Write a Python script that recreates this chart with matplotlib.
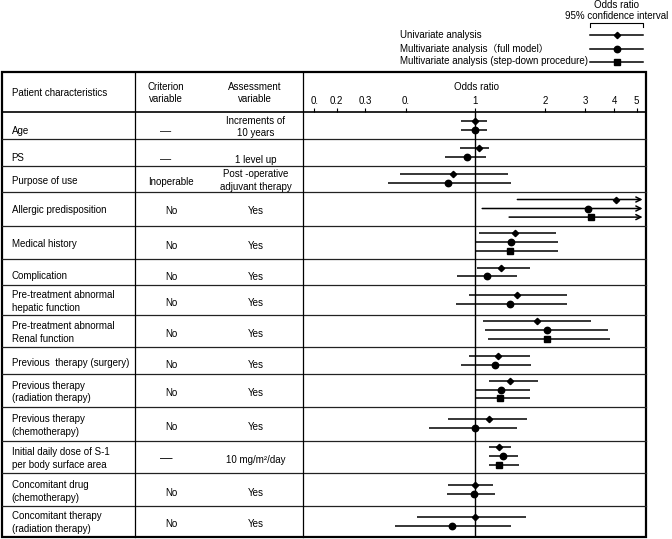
import numpy as np
import matplotlib
matplotlib.use('Agg')
import matplotlib.pyplot as plt
from matplotlib.patches import Rectangle
from matplotlib.ticker import NullLocator

plt.rcParams['font.family'] = ['Liberation Sans', 'Noto Sans CJK JP', 'DejaVu Sans']

# table text
characteristics = ["Age", "PS", "Purpose of use", "Allergic predisposition",
                   "Medical history", "Complication",
                   "Pre-treatment abnormal\nhepatic function",
                   "Pre-treatment abnormal\nRenal function",
                   "Previous  therapy (surgery)",
                   "Previous therapy\n(radiation therapy)",
                   "Previous therapy\n(chemotherapy)",
                   "Initial daily dose of S-1\nper body surface area",
                   "Concomitant drug\n(chemotherapy)",
                   "Concomitant therapy\n(radiation therapy)"]
criterion = ["—", "—", "Inoperable", "No", "No", "No", "No", "No", "No", "No",
             "No", "—", "No", "No"]
assessment = ["Increments of\n10 years", "1 level up", "Post -operative\nadjuvant therapy",
              "Yes", "Yes", "Yes", "Yes", "Yes", "Yes", "Yes", "Yes",
              "10 mg/m²/day", "Yes", "Yes"]

nan, inf = np.nan, np.inf
# odds ratios and 95% CI (inf = open-ended upper bound, drawn as arrow)
uni_or = [1.00, 1.04, 0.80, 4.05, 1.49, 1.29, 1.51, 1.85, 1.25, 1.41, 1.15, 1.26, 1.00, 1.00]
uni_lo = [0.87, 0.86, 0.47, 1.52, 1.04, 1.02, 0.94, 1.08, 0.94, 1.15, 0.76, 1.14, 0.76, 0.56]
uni_hi = [1.12, 1.15, 1.38, inf, 2.23, 1.73, 2.49, 3.17, 1.73, 1.87, 1.68, 1.43, 1.19, 1.66]

full_or = [1.00, 0.92, 0.76, 3.07, 1.42, 1.12, 1.41, 2.05, 1.22, 1.29, 1.00, 1.32, 0.99, 0.79]
full_lo = [0.87, 0.74, 0.42, 1.07, 1.00, 0.83, 0.82, 1.10, 0.87, 1.00, 0.63, 1.15, 0.75, 0.45]
full_hi = [1.12, 1.11, 1.42, inf, 2.27, 1.52, 2.49, 3.74, 1.75, 1.73, 1.52, 1.53, 1.21, 1.42]

step_or = [nan, nan, nan, 3.17, 1.41, nan, nan, 2.05, nan, 1.28, nan, 1.27, nan, nan]
step_lo = [nan, nan, nan, 1.40, 1.00, nan, nan, 1.13, nan, 1.00, nan, 1.14, nan, nan]
step_hi = [nan, nan, nan, inf, 2.28, nan, nan, 3.84, nan, 1.72, nan, 1.54, nan, nan]

tick_values = [0.2, 0.25, 1 / 3, 0.5, 1, 2, 3, 4, 5]
tick_labels = ['0.', '0.2', '0.3', '0.', '1', '2', '3', '4', '5']

legend_labels = ["Univariate analysis", "Multivariate analysis（full model）",
                 "Multivariate analysis (step-down procedure)"]

# layout (pixels)
W, H = 672, 539
FS = 7
x_left, x_c1, x_c2, x_right = 2, 135, 302.5, 646
y_top, y_head = 72, 112
row_h = [27, 26.7, 26.6, 34, 33, 25.7, 30, 31.7, 27.3, 33, 33.7, 32.6, 32.7, 30.7]
text_shift = [4, 4.5, 0, -1, 0, 2, 0, 0, 1.5, 0, 0, 0, 0, 0]
edges = y_head + np.concatenate([[0], np.cumsum(row_h)])
y_bot = edges[-1]

fig = plt.figure(figsize=(W / 100, H / 100), dpi=100)
bg = fig.add_axes([0, 0, 1, 1])
bg.set_xlim(0, W)
bg.set_ylim(H, 0)
bg.axis('off')

# table frame
bg.add_patch(Rectangle((x_left, y_top), x_right - x_left, y_bot - y_top,
                       fill=False, lw=1.6, color='black'))
bg.plot([x_left, x_right], [y_head, y_head], color='black', lw=1.2)
for e in edges[1:-1]:
    bg.plot([x_left, x_right], [e, e], color='#222222', lw=0.9)
for xc in (x_c1, x_c2):
    bg.plot([xc, xc], [y_top, y_bot], color='black', lw=0.9)

# header
bg.text(11.7, 93, "Patient characteristics", fontsize=FS, va='center')
bg.text(166, 93, "Criterion\nvariable", fontsize=FS, ha='center', va='center', linespacing=1.35)
bg.text(255, 93, "Assessment\nvariable", fontsize=FS, ha='center', va='center', linespacing=1.35)
bg.text(476.7, 87, "Odds ratio", fontsize=FS, ha='center', va='center')

for i in range(len(characteristics)):
    ym = (edges[i] + edges[i + 1]) / 2 + 1.5
    yc = ym + text_shift[i]
    bg.text(11.7, yc, characteristics[i], fontsize=FS, va='center', linespacing=1.35)
    if criterion[i] == "—":
        bg.text(166, yc + 0.5, criterion[i], fontsize=FS + (2 if i > 5 else 1),
                ha='center', va='center')
    else:
        bg.text(171, yc + 1.5, criterion[i], fontsize=FS, ha='center', va='center')
    two_line = '\n' in assessment[i]
    bg.text(256, ym if two_line else yc + 1.5, assessment[i],
            fontsize=FS, ha='center', va='center', linespacing=1.35)

# forest plot
ax = fig.add_axes([x_c2 / W, 1 - y_bot / H, (x_right - x_c2) / W, (y_bot - y_head) / H])
ax.patch.set_alpha(0)
ax.set_xscale('log')
ax.set_xlim(0.178, 5.49)
ax.set_ylim(y_bot, y_head)
for s in ax.spines.values():
    s.set_visible(False)
ax.set_yticks([])
ax.set_xticks(tick_values)
ax.set_xticklabels(tick_labels)
ax.xaxis.set_minor_locator(NullLocator())
ax.xaxis.tick_top()
ax.tick_params(axis='x', direction='out', length=3, width=0.8, labelsize=FS, pad=1)
ax.axvline(1, color='black', lw=1)

series = [(uni_or, uni_lo, uni_hi, 'D', 3.2),
          (full_or, full_lo, full_hi, 'o', 4.6),
          (step_or, step_lo, step_hi, 's', 4.0)]
offsets = {2: [-4.6, 4.2], 3: [-9.8, -0.8, 7.8]}

for i in range(len(characteristics)):
    ks = [k for k in range(3) if not np.isnan(series[k][0][i])]
    yc = (edges[i] + edges[i + 1]) / 2
    for k, off in zip(ks, offsets[len(ks)]):
        orv, lo, hi, mk, ms = series[k][0][i], series[k][1][i], series[k][2][i], series[k][3], series[k][4]
        y = yc + off
        if np.isinf(hi):
            ax.annotate('', xy=(0.99, y), xycoords=('axes fraction', 'data'),
                        xytext=(lo, y), textcoords='data',
                        arrowprops=dict(arrowstyle='->', lw=1.1, color='black',
                                        shrinkA=0, shrinkB=0, mutation_scale=9))
        else:
            ax.plot([lo, hi], [y, y], color='black', lw=1.1, solid_capstyle='butt')
        ax.plot(orv, y, marker=mk, ms=ms, color='black')

# legend
bg.text(617, 5, "Odds ratio", fontsize=FS, ha='center', va='center')
bg.text(617, 16, "95% confidence interval", fontsize=FS, ha='center', va='center')
bg.plot([590, 590, 643.3, 643.3], [26.7, 22.7, 22.7, 26.7], color='black', lw=0.8)
for label, (_, _, _, mk, ms), ly in zip(legend_labels, series, [35, 48.5, 61.5]):
    bg.text(400, ly, label, fontsize=FS, va='center')
    bg.plot([590, 643.3], [ly, ly], color='black', lw=1.1)
    bg.plot(616.7, ly, marker=mk, ms=ms, color='black')

fig.savefig('out.png', dpi=100)
